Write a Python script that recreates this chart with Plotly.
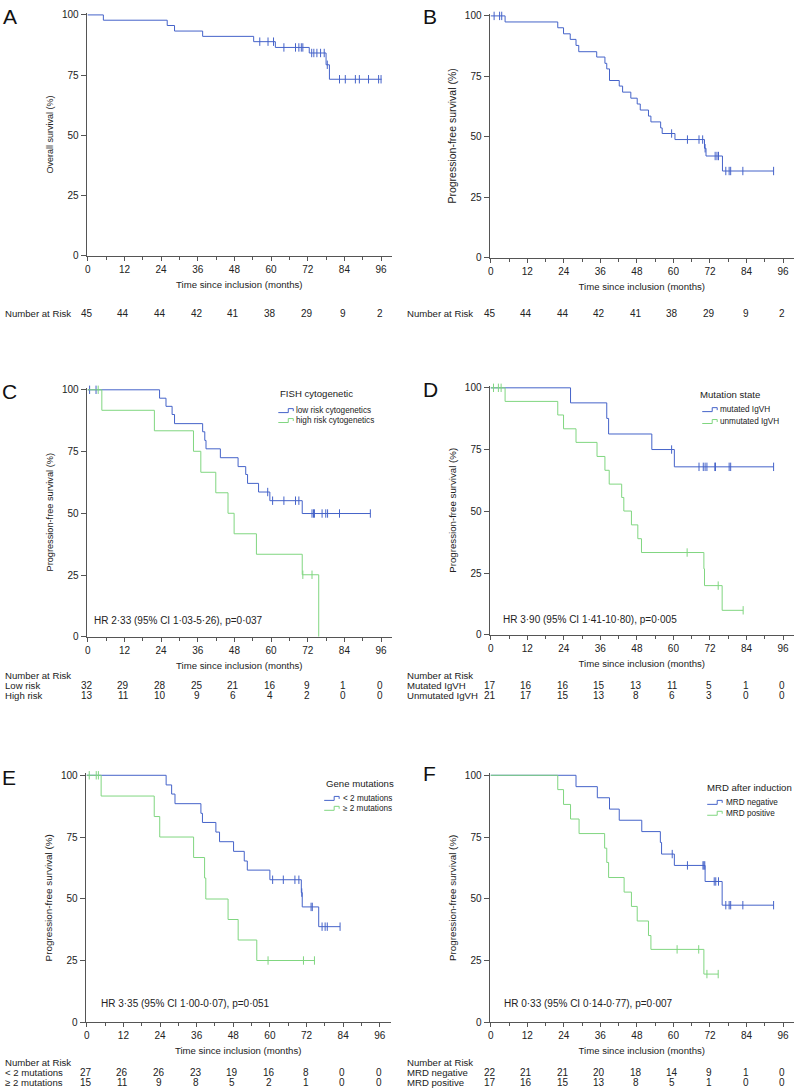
import numpy as np
import plotly.graph_objects as go

# ---------------- DATA ----------------
months_ticks = [0, 12, 24, 36, 48, 60, 72, 84, 96]

# Panel A - overall survival
A_times = [0, 5.1, 26.0, 28.4, 37.6, 54.3, 61.4, 72.5, 78.0, 79.1]
A_surv = [100, 97.8, 95.6, 93.3, 91.1, 88.9, 86.5, 84.2, 79.3, 73.3]
A_end = 96.2
A_cens = [56.3, 59.0, 60.8, 64.2, 68.0, 69.1, 69.9, 70.4, 73.3, 74.0, 75.0, 76.2,
          77.4, 78.4, 82.4, 84.3, 87.6, 88.9, 91.9, 95.2, 96.0]
A_risk = [45, 44, 44, 42, 41, 38, 29, 9, 2]

# Panel B - PFS
B_times = [0, 4.7, 22.0, 23.9, 26.1, 28.0, 28.9, 34.8, 37.5, 38.1, 39.0, 42.2, 43.3,
           46.0, 48.1, 49.1, 51.8, 52.6, 55.8, 56.3, 60.5, 70.2, 70.7, 76.1]
B_surv = [100, 97.5, 95.1, 92.6, 90.3, 87.8, 85.2, 83.0, 80.4, 78.1, 73.3, 71.0, 68.5,
          66.0, 63.6, 61.1, 58.6, 56.2, 53.7, 51.4, 48.9, 45.3, 42.1, 35.9]
B_end = 92.9
B_cens = [1.1, 2.9, 3.6, 59.4, 64.6, 68.4, 69.6, 70.4, 73.7, 74.3, 74.8, 77.2, 78.3,
          78.8, 82.8, 92.9]
B_risk = [45, 44, 44, 42, 41, 38, 29, 9, 2]

# Panel C - FISH cytogenetic
C_low_times = [0, 23.5, 25.6, 27.6, 28.4, 37.6, 38.3, 38.7, 43.4, 49.2, 51.7, 52.3,
               55.9, 59.6, 70.2]
C_low_surv = [100, 96.6, 93.3, 90.0, 86.3, 83.0, 79.5, 76.1, 72.5, 68.9, 65.7, 62.1,
              58.6, 55.1, 49.9]
C_low_end = 92.5
C_low_cens = [0.6, 2.7, 58.9, 60.5, 64.2, 68.0, 69.1, 73.4, 73.9, 74.2, 76.7, 77.9,
              78.5, 82.4, 92.5]
C_high_times = [0, 4.6, 21.8, 34.6, 37.0, 41.9, 45.9, 47.9, 55.2, 70.2, 75.6]
C_high_surv = [100, 91.7, 83.4, 75.1, 66.6, 58.3, 50.0, 41.7, 33.4, 25.1, 0]
C_high_end = 75.6
C_high_cens = [3.4, 70.4, 73.4]
C_risk_low = [32, 29, 28, 25, 21, 16, 9, 1, 0]
C_risk_high = [13, 11, 10, 9, 6, 4, 2, 0, 0]

# Panel D - Mutation state
D_mut_times = [0, 26.2, 38.1, 38.7, 52.9, 60.3]
D_mut_surv = [100, 93.9, 87.6, 81.3, 75.0, 68.0]
D_mut_end = 92.9
D_mut_cens = [59.4, 68.4, 69.8, 70.4, 71.0, 73.6, 73.8, 78.3, 78.8, 92.9]
D_unm_times = [0, 4.7, 22.0, 23.9, 28.0, 34.9, 37.5, 38.9, 43.0, 43.7, 46.2, 48.3,
               49.5, 70.0, 70.2, 76.0]
D_unm_surv = [100, 94.5, 89.0, 83.4, 77.9, 72.2, 66.6, 61.0, 55.6, 50.1, 44.5, 38.9,
              33.3, 26.7, 19.9, 9.9]
D_unm_end = 82.9
D_unm_cens = [0.9, 2.5, 3.4, 64.5, 74.7, 82.9]
D_risk_mut = [17, 16, 16, 15, 13, 11, 5, 1, 0]
D_risk_unm = [21, 17, 15, 13, 8, 6, 3, 0, 0]

# Panel E - Gene mutations
E_lt_times = [0, 26.0, 27.8, 28.9, 37.4, 37.9, 42.3, 43.5, 48.1, 51.6, 52.6, 60.0,
              70.3, 70.6, 76.0]
E_lt_surv = [100, 96.1, 92.4, 88.5, 84.6, 80.9, 77.0, 73.1, 69.2, 65.3, 61.6, 57.7,
             52.5, 46.7, 38.7]
E_lt_end = 83.0
E_lt_cens = [60.9, 64.4, 68.2, 69.5, 70.45, 73.5, 73.9, 77.1, 78.1, 78.8, 83.0]
E_ge_times = [0, 4.7, 22.1, 23.9, 35.0, 38.6, 39.0, 46.3, 49.6, 55.7]
E_ge_surv = [100, 91.6, 83.3, 75.0, 66.7, 58.4, 49.9, 41.6, 33.3, 25.0]
E_ge_end = 74.8
E_ge_cens = [0.8, 3.1, 3.8, 59.4, 71.0, 74.6]
E_risk_lt = [27, 26, 26, 23, 19, 16, 8, 0, 0]
E_risk_ge = [15, 11, 9, 8, 5, 2, 1, 0, 0]

# Panel F - MRD after induction
F_neg_times = [0, 28.0, 35.0, 39.0, 42.2, 49.6, 55.7, 56.1, 60.3, 70.4, 76.0]
F_neg_surv = [100, 95.4, 90.9, 86.3, 81.8, 77.2, 72.8, 68.1, 63.5, 57.0, 47.4]
F_neg_end = 92.9
F_neg_cens = [59.6, 64.6, 69.7, 70.0, 70.3, 73.4, 73.9, 74.8, 77.2, 78.3, 78.8, 82.8, 92.9]
F_pos_times = [0, 22.0, 23.9, 26.2, 29.0, 37.4, 38.1, 38.7, 43.8, 46.2, 48.1, 51.8,
               52.6, 70.0]
F_pos_surv = [100, 94.2, 88.2, 82.3, 76.4, 70.5, 64.7, 58.6, 52.7, 46.9, 41.0, 35.1,
              29.5, 19.5]
F_pos_end = 74.7
F_pos_cens = [61.2, 68.3, 71.0, 74.7]
F_risk_neg = [22, 21, 21, 20, 18, 14, 9, 1, 0]
F_risk_pos = [17, 16, 15, 13, 8, 5, 1, 0, 0]

# ---------------- STYLE / LAYOUT ----------------
W, H = 798, 1092
BLUE = '#4563c9'
GREEN = '#80d680'
AXC = '#555555'
TXT = '#222222'
FONT = 'Liberation Sans, Arial, sans-serif'


def px(x):
    return x / W


def py(y):
    return 1 - y / H


def at(times, surv, t):
    i = int(np.searchsorted(times, t, side='right')) - 1
    return surv[i]


fig = go.Figure()

panels = [
    dict(letter='A', px0=86, px96=380, py0=254, py100=11, ytitle='Overall survival (%)', yts=9,
         lx=8, ly=13),
    dict(letter='B', px0=490, px96=783, py0=256, py100=12, ytitle='Progression-free survival (%)', yts=10.5,
         lx=429, ly=13),
    dict(letter='C', px0=86, px96=380, py0=638, py100=389, ytitle='Progression-free survival (%)', yts=9.2,
         lx=8, ly=391),
    dict(letter='D', px0=490, px96=783, py0=636, py100=387, ytitle='Progression-free survival (%)', yts=9.7,
         lx=430, ly=389),
    dict(letter='E', px0=85, px96=378.7, py0=1026.7, py100=777.7, ytitle='Progression-free survival (%)', yts=9.9,
         lx=7, ly=780),
    dict(letter='F', px0=490, px96=783, py0=1026.7, py100=777.7, ytitle='Progression-free survival (%)', yts=9.8,
         lx=429, ly=776),
]

XR = (-0.4, 99.6)
YR = (0, 100.8)
annotations = []
shapes = []

for i, p in enumerate(panels):
    n = '' if i == 0 else str(i + 1)
    ppm = (p['px96'] - p['px0']) / 96.0
    ppp = (p['py0'] - p['py100']) / 100.0
    xd = [px(p['px0'] + XR[0] * ppm), px(p['px0'] + XR[1] * ppm)]
    yd = [py(p['py0'] - YR[0] * ppp), py(p['py0'] - YR[1] * ppp)]
    fig.layout['xaxis' + n] = dict(
        domain=xd, range=list(XR), anchor='y' + n, showgrid=False, zeroline=False,
        showline=True, linecolor=AXC, linewidth=1, ticks='outside', ticklen=4,
        tickcolor=AXC, tickvals=months_ticks, tickfont=dict(size=10, color=TXT, family=FONT),
        minor=dict(tickvals=[6, 18, 30, 42, 54, 66, 78, 90], ticks='outside', ticklen=3,
                   tickcolor=AXC, showgrid=False),
        title=dict(text='Time since inclusion (months)', standoff=7,
                   font=dict(size=9.6, color=TXT, family=FONT)),
        fixedrange=True)
    fig.layout['yaxis' + n] = dict(
        domain=[yd[0], yd[1]], range=list(YR), anchor='x' + n, showgrid=False, zeroline=False,
        showline=True, linecolor=AXC, linewidth=1, ticks='outside', ticklen=5,
        tickcolor=AXC, tickvals=[0, 25, 50, 75, 100],
        tickfont=dict(size=10, color=TXT, family=FONT),
        title=dict(text=p['ytitle'], standoff=6, font=dict(size=p['yts'], color=TXT, family=FONT)),
        fixedrange=True)
    annotations.append(dict(text=p['letter'], x=px(p['lx']), y=py(p['ly']), xref='paper', yref='paper',
                            showarrow=False, xanchor='center', yanchor='middle',
                            font=dict(size=21, color='#111', family=FONT)))


def add_curve(idx, times, surv, end, cens, color, name):
    n = '' if idx == 0 else str(idx + 1)
    xs = list(times) + [end]
    ys = list(surv) + [surv[-1]]
    fig.add_trace(go.Scatter(x=xs, y=ys, mode='lines', line=dict(color=color, width=1, shape='hv'),
                             xaxis='x' + n, yaxis='y' + n, name=name, showlegend=False,
                             hoverinfo='skip'))
    cy = [at(times, surv, t) for t in cens]
    fig.add_trace(go.Scatter(x=cens, y=cy, mode='markers', xaxis='x' + n, yaxis='y' + n,
                             marker=dict(symbol='line-ns', size=6,
                                         line=dict(color=color, width=1), color=color),
                             showlegend=False, hoverinfo='skip', cliponaxis=False))


add_curve(0, A_times, A_surv, A_end, A_cens, BLUE, 'Overall survival')
add_curve(1, B_times, B_surv, B_end, B_cens, BLUE, 'Progression-free survival')
add_curve(2, C_low_times, C_low_surv, C_low_end, C_low_cens, BLUE, 'low risk cytogenetics')
add_curve(2, C_high_times, C_high_surv, C_high_end, C_high_cens, GREEN, 'high risk cytogenetics')
add_curve(3, D_mut_times, D_mut_surv, D_mut_end, D_mut_cens, BLUE, 'mutated IgVH')
add_curve(3, D_unm_times, D_unm_surv, D_unm_end, D_unm_cens, GREEN, 'unmutated IgVH')
add_curve(4, E_lt_times, E_lt_surv, E_lt_end, E_lt_cens, BLUE, '< 2 mutations')
add_curve(4, E_ge_times, E_ge_surv, E_ge_end, E_ge_cens, GREEN, '≥ 2 mutations')
add_curve(5, F_neg_times, F_neg_surv, F_neg_end, F_neg_cens, BLUE, 'MRD negative')
add_curve(5, F_pos_times, F_pos_surv, F_pos_end, F_pos_cens, GREEN, 'MRD positive')


def text(t, x, y, size=9.6, xanchor='left', xref='paper', xshift=0):
    annotations.append(dict(text=t, x=x, y=py(y), xref=xref, yref='paper', showarrow=False,
                            xanchor=xanchor, yanchor='middle', xshift=xshift,
                            font=dict(size=size, color=TXT, family=FONT)))


def risk_row(idx, values, y):
    n = '' if idx == 0 else str(idx + 1)
    for t, v in zip(months_ticks, values):
        text(str(v), t, y, size=10, xanchor='center', xref='x' + n, xshift=-1)


# Number at risk tables
text('Number at Risk', px(1), 312, size=9.6)
risk_row(0, A_risk, 312)
text('Number at Risk', px(404), 312, size=9.6)
risk_row(1, B_risk, 312)

text('Number at Risk', px(1), 677)
text('Low risk', px(1), 687)
text('High risk', px(1), 697)
risk_row(2, C_risk_low, 687)
risk_row(2, C_risk_high, 697)

text('Number at Risk', px(404), 677)
text('Mutated IgVH', px(404), 687)
text('Unmutated IgVH', px(404), 697)
risk_row(3, D_risk_mut, 687)
risk_row(3, D_risk_unm, 697)

text('Number at Risk', px(1), 1067)
text('< 2 mutations', px(1), 1077)
text('≥ 2 mutations', px(1), 1087)
risk_row(4, E_risk_lt, 1077)
risk_row(4, E_risk_ge, 1087)

text('Number at Risk', px(404), 1067)
text('MRD negative', px(404), 1077)
text('MRD positive', px(404), 1087)
risk_row(5, F_risk_neg, 1077)
risk_row(5, F_risk_pos, 1087)

# Hazard ratio annotations
text('HR 2·33 (95% CI 1·03-5·26), p=0·037', px(90), 622, size=10)
text('HR 3·90 (95% CI 1·41-10·80), p=0·005', px(500), 621, size=10)
text('HR 3·35 (95% CI 1·00-0·07), p=0·051', px(97), 1008, size=10)
text('HR 0·33 (95% CI 0·14-0·77), p=0·007', px(501), 1008, size=10)

# Legends (title + step icons + labels)
legends = [
    dict(title='FISH cytogenetic', tx=277, ty=393, ix=277, lx=293,
         items=[('low risk cytogenetics', BLUE, 410), ('high risk cytogenetics', GREEN, 420)]),
    dict(title='Mutation state', tx=698, ty=394, ix=702, lx=718,
         items=[('mutated IgVH', BLUE, 409), ('unmutated IgVH', GREEN, 421)]),
    dict(title='Gene mutations', tx=323, ty=786, ix=323, lx=340,
         items=[('< 2 mutations', BLUE, 801), ('≥ 2 mutations', GREEN, 811)]),
    dict(title='MRD after induction', tx=705, ty=790, ix=707, lx=724,
         items=[('MRD negative', BLUE, 805), ('MRD positive', GREEN, 816)]),
]
for lg in legends:
    text(lg['title'], px(lg['tx']), lg['ty'], size=9.6)
    for label, col, yy in lg['items']:
        x0 = lg['ix']
        path = 'M {},{} L {},{} L {},{} L {},{} L {},{}'.format(
            px(x0), py(yy + 2), px(x0 + 10), py(yy + 2), px(x0 + 10), py(yy - 2),
            px(x0 + 15), py(yy - 2), px(x0 + 15), py(yy + 0.5))
        shapes.append(dict(type='path', path=path, xref='paper', yref='paper',
                           line=dict(color=col, width=1)))
        text(label, px(lg['lx']), yy, size=8.2)

fig.update_layout(
    width=W, height=H, margin=dict(l=0, r=0, t=0, b=0),
    paper_bgcolor='white', plot_bgcolor='white',
    showlegend=False, annotations=annotations, shapes=shapes,
    font=dict(family=FONT, color=TXT),
)

fig.write_html('out.html', config={'displayModeBar': False},
               post_script="document.body.style.margin='0';document.body.style.overflow='hidden';")
